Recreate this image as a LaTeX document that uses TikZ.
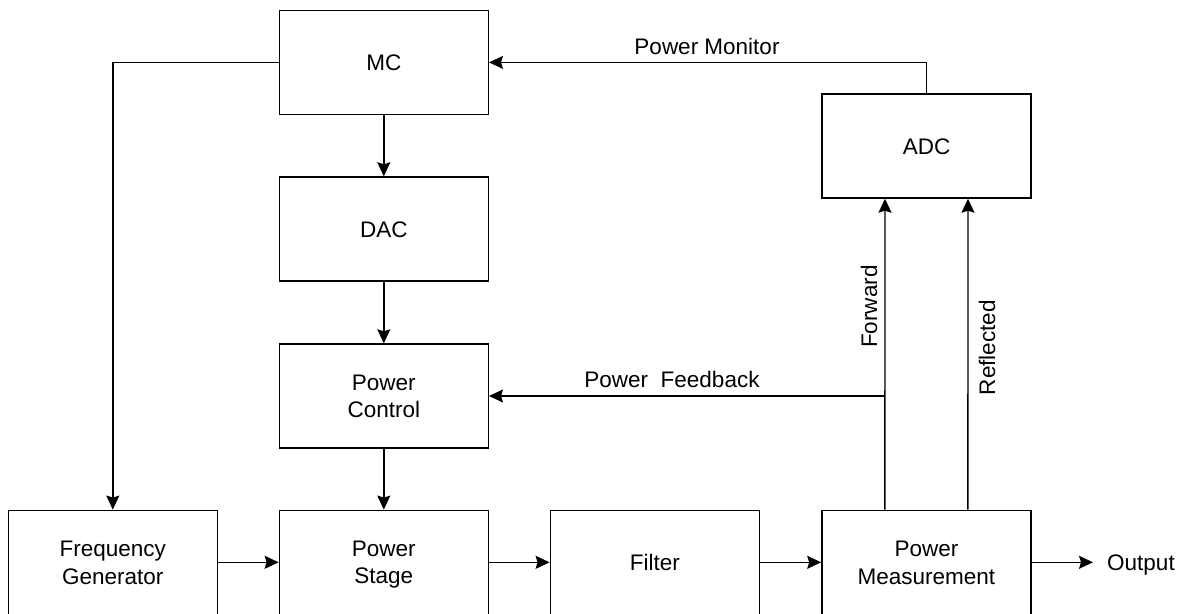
\documentclass[tikz,border=0pt]{standalone}
\usepackage{fontspec}
\setmainfont{Liberation Sans}
\usetikzlibrary{arrows.meta}
\newcommand\bxs{\vrule height 20pt depth 3.7pt width 0pt}
\begin{document}
\begin{tikzpicture}[x=1pt,y=-1pt,
  blk/.style={draw=black, line width=1.4pt, minimum width=209pt, minimum height=104pt, inner sep=0pt, align=center, font=\fontsize{22.5}{27.5}\selectfont},
  lbl/.style={inner sep=0pt, font=\fontsize{22.5}{27.5}\selectfont},
  arr/.style={draw=black, line width=1.4pt, -{Stealth[length=14pt,width=13pt,inset=2pt]}}
]
\useasboundingbox (0,0) rectangle (1183,613);
\node[blk] (mc) at (383.8,62.4) {\bxs MC};
\node[blk] (dac) at (383.8,229) {\bxs DAC};
\node[blk] (pc) at (383.8,396) {\bxs Power\\\bxs Control};
\node[blk] (ps) at (383.8,562.3) {\bxs Power\\\bxs Stage};
\node[blk] (fg) at (112.8,562.3) {\bxs Frequency\\\bxs Generator};
\node[blk] (filt) at (654.8,562.3) {\bxs Filter};
\node[blk] (pm) at (926.4,562.3) {\bxs Power\\\bxs Measurement};
\node[blk] (adc) at (926.5,146) {\bxs ADC};
\node[lbl, anchor=base west] (out) at (1107,570.7) {Output};
\coordinate (outend) at (1093,562.3);
\node[lbl, anchor=base] (pmon) at (707,54) {Power Monitor};
\node[lbl, anchor=base] (pfb) at (672,387.3) {Power\ \ Feedback};
\node[lbl, anchor=base, rotate=90] (fwd) at (877,306.7) {Forward};
\node[lbl, anchor=base, rotate=90] (refl) at (995,347.5) {Reflected};

\draw[arr] (mc.south) -- (dac.north);
\draw[arr] (dac.south) -- (pc.north);
\draw[arr] (pc.south) -- (ps.north);
\draw[arr] (mc.west) -| (fg.north);
\draw[arr] (fg.east) -- (ps.west);
\draw[arr] (ps.east) -- (filt.west);
\draw[arr] (filt.east) -- (pm.west);
\draw[arr] (pm.east) -- (outend);
\draw[arr] ([xshift=-41.5pt]pm.north) -- ([xshift=-41.5pt]adc.south);
\draw[arr] ([xshift=41.5pt]pm.north) -- ([xshift=41.5pt]adc.south);
\draw[arr] ([xshift=-41.5pt]pm.north |- pc.east) -- (pc.east);
\draw[arr] (adc.north) |- (mc.east);
\end{tikzpicture}
\end{document}
